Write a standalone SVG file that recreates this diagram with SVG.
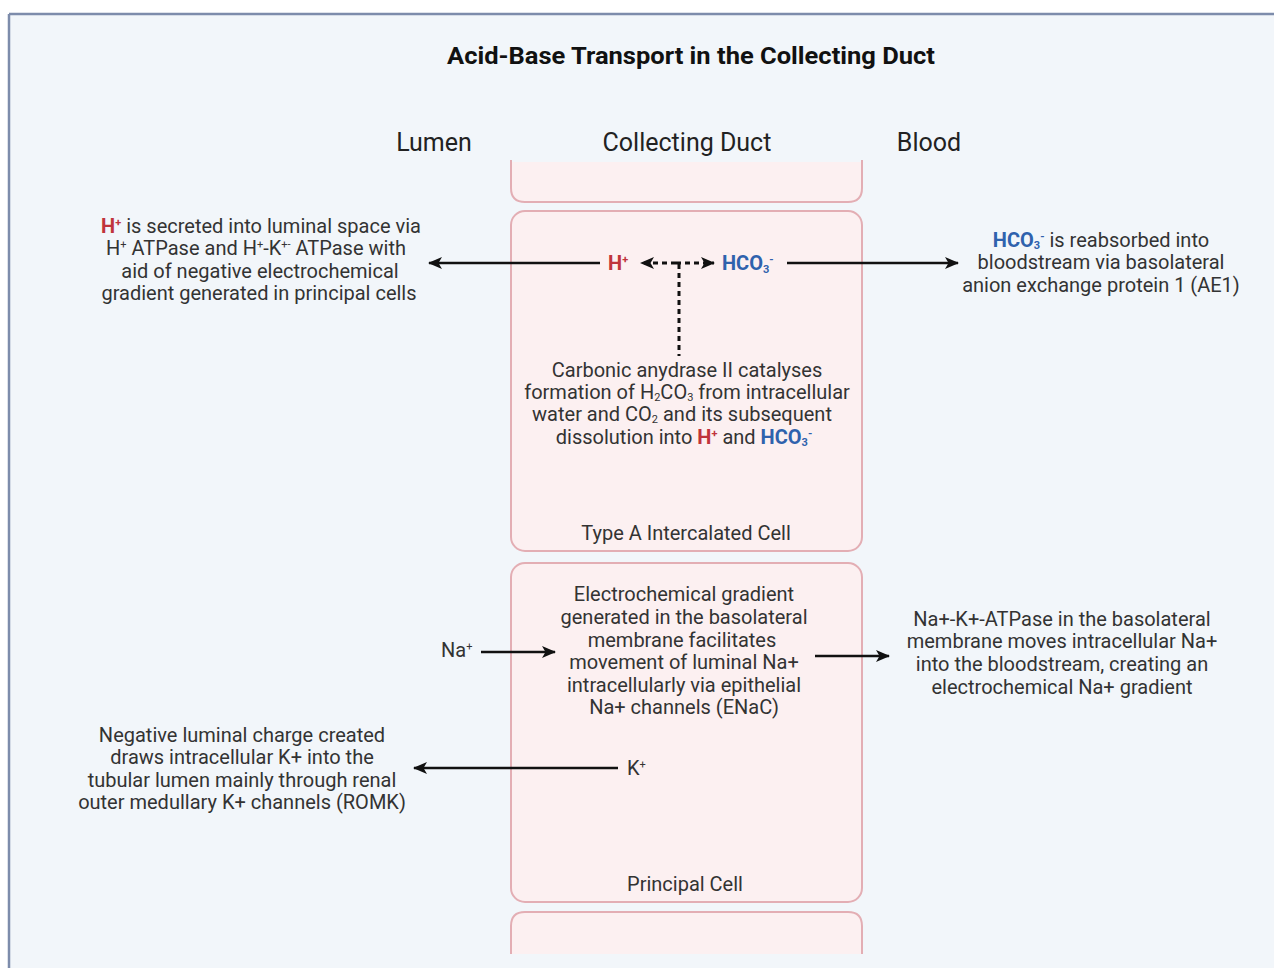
<svg xmlns="http://www.w3.org/2000/svg" width="1274" height="968" viewBox="0 0 1274 968">
<defs>
<marker id="ah" viewBox="0 0 14 12" refX="13" refY="6" markerWidth="14" markerHeight="12" markerUnits="userSpaceOnUse" orient="auto-start-reverse">
<path d="M0,0 L14,6 L0,12 L3.5,6 Z" fill="#111"/>
</marker>
</defs>
<style>
text{font-family:Roboto,"Liberation Sans",sans-serif;fill:#333;}
.b{font-size:20px;text-anchor:middle;}
.s{font-size:20px;}
.h{font-size:25px;text-anchor:middle;fill:#222;}
.t{font-size:24px;font-weight:bold;text-anchor:middle;fill:#111;}
.red{fill:#c0343c;font-weight:bold;}
.blue{fill:#2f62ad;font-weight:bold;}
.cell{fill:#fcf0f1;stroke:#e3aeb4;stroke-width:2;}
.ln{stroke:#111;stroke-width:2.5;fill:none;}
.dash{stroke:#111;stroke-width:3;fill:none;stroke-dasharray:5 4;}
</style>
<rect x="0" y="0" width="1274" height="968" fill="#ffffff"/>
<rect x="9" y="14" width="1270" height="960" fill="#f2f6fa"/>

<g id="title"><text class="t" x="691" y="64" textLength="488" lengthAdjust="spacingAndGlyphs">Acid-Base Transport in the Collecting Duct</text></g>
<g id="headers">
<text class="h" x="434" y="151">Lumen</text>
<text class="h" x="687" y="151">Collecting Duct</text>
<text class="h" x="929" y="151">Blood</text>
</g>

<g id="cell-top">
<path class="cell" d="M511,160 L511,188 Q511,202 525,202 L848,202 Q862,202 862,188 L862,160"/>
<rect x="512" y="158" width="349" height="4" fill="#f2f6fa"/>
</g>

<g id="cell-typeA">
<rect class="cell" x="511" y="211" width="351" height="340" rx="14"/>
<text class="b" x="686" y="540">Type A Intercalated Cell</text>
</g>

<g id="cell-principal">
<rect class="cell" x="511" y="563" width="351" height="339" rx="14"/>
<text class="b" x="685" y="891">Principal Cell</text>
</g>

<g id="cell-bottom">
<path class="cell" d="M511,968 L511,926 Q511,912 525,912 L848,912 Q862,912 862,926 L862,968"/>
<rect x="9" y="954" width="1270" height="14" fill="#f2f6fa"/>
</g>

<line x1="9" y1="14" x2="1274" y2="14" stroke="#7d8cab" stroke-width="2.5"/>
<line x1="9" y1="14" x2="9" y2="968" stroke="#7d8cab" stroke-width="2.5"/>

<g id="ions-typeA">
<text x="608" y="270" style="font-size:20px" class="red">H<tspan dy="-7" font-size="11">+</tspan></text>
<text x="722" y="270" style="font-size:20px" class="blue">HCO<tspan dy="3" font-size="11">3</tspan><tspan dy="-10" font-size="11">-</tspan></text>
</g>

<g id="carbonic-text">
<text class="b" x="687" y="377">Carbonic anydrase II catalyses</text>
<text class="b" x="687" y="399">formation of H<tspan dy="2" font-size="11">2</tspan><tspan dy="-2">CO</tspan><tspan dy="2" font-size="11">3</tspan><tspan dy="-2"> from intracellular</tspan></text>
<text class="b" x="682" y="421">water and CO<tspan dy="2" font-size="11">2</tspan><tspan dy="-2">  and its subsequent</tspan></text>
<text class="b" x="684" y="444">dissolution into <tspan class="red">H</tspan><tspan class="red" dy="-7" font-size="11">+</tspan><tspan dy="7"> and </tspan><tspan class="blue">HCO</tspan><tspan class="blue" dy="2" font-size="11">3</tspan><tspan class="blue" dy="-9" font-size="11">-</tspan></text>
</g>

<g id="left-text-H">
<text class="b" x="261" y="233"><tspan class="red">H</tspan><tspan class="red" dy="-7" font-size="11">+</tspan><tspan dy="7"> is secreted into luminal space via</tspan></text>
<text class="b" x="256" y="255">H<tspan dy="-7" font-size="11">+</tspan><tspan dy="7"> ATPase and H</tspan><tspan dy="-7" font-size="11">+</tspan><tspan dy="7">-K</tspan><tspan dy="-7" font-size="11">+-</tspan><tspan dy="7"> ATPase with</tspan></text>
<text class="b" x="260" y="278">aid of negative electrochemical</text>
<text class="b" x="259" y="300">gradient generated in principal cells</text>
</g>

<g id="right-text-HCO3">
<text class="b" x="1101" y="247"><tspan class="blue">HCO</tspan><tspan class="blue" dy="2" font-size="11">3</tspan><tspan class="blue" dy="-9" font-size="11">-</tspan><tspan dy="7"> is reabsorbed into</tspan></text>
<text class="b" x="1101" y="269">bloodstream via basolateral</text>
<text class="b" x="1101" y="292">anion exchange protein 1 (AE1)</text>
</g>

<g id="principal-text">
<text class="b" x="684" y="601">Electrochemical gradient</text>
<text class="b" x="684" y="624">generated in the basolateral</text>
<text class="b" x="682" y="647">membrane facilitates</text>
<text class="b" x="684" y="669">movement of luminal Na+</text>
<text class="b" x="684" y="692">intracellularly via epithelial</text>
<text class="b" x="684" y="714">Na+ channels (ENaC)</text>
</g>

<g id="na-label"><text class="s" x="441" y="657">Na<tspan dy="-7" font-size="11">+</tspan></text></g>
<g id="k-label"><text class="s" x="627" y="775">K<tspan dy="-7" font-size="11">+</tspan></text></g>

<g id="right-text-NaK">
<text class="b" x="1062" y="626">Na+-K+-ATPase in the basolateral</text>
<text class="b" x="1062" y="648">membrane moves intracellular Na+</text>
<text class="b" x="1062" y="671">into the bloodstream, creating an</text>
<text class="b" x="1062" y="694">electrochemical Na+ gradient</text>
</g>

<g id="left-text-K">
<text class="b" x="242" y="742">Negative luminal charge created</text>
<text class="b" x="242" y="764">draws intracellular K+ into the</text>
<text class="b" x="242" y="787">tubular lumen mainly through renal</text>
<text class="b" x="242" y="809">outer medullary K+ channels (ROMK)</text>
</g>

<g id="connectors">
<line class="ln" x1="600" y1="263" x2="429" y2="263" marker-end="url(#ah)"/>
<line class="ln" x1="787" y1="263" x2="958" y2="263" marker-end="url(#ah)"/>
<line class="dash" x1="676" y1="263" x2="641" y2="263" marker-end="url(#ah)"/>
<line class="dash" x1="676" y1="263" x2="714" y2="263" marker-end="url(#ah)"/>
<line class="dash" x1="679" y1="264" x2="679" y2="356"/>
<line class="ln" x1="481" y1="652" x2="555" y2="652" marker-end="url(#ah)"/>
<line class="ln" x1="815" y1="656" x2="889" y2="656" marker-end="url(#ah)"/>
<line class="ln" x1="618" y1="768" x2="414" y2="768" marker-end="url(#ah)"/>
</g>
</svg>
